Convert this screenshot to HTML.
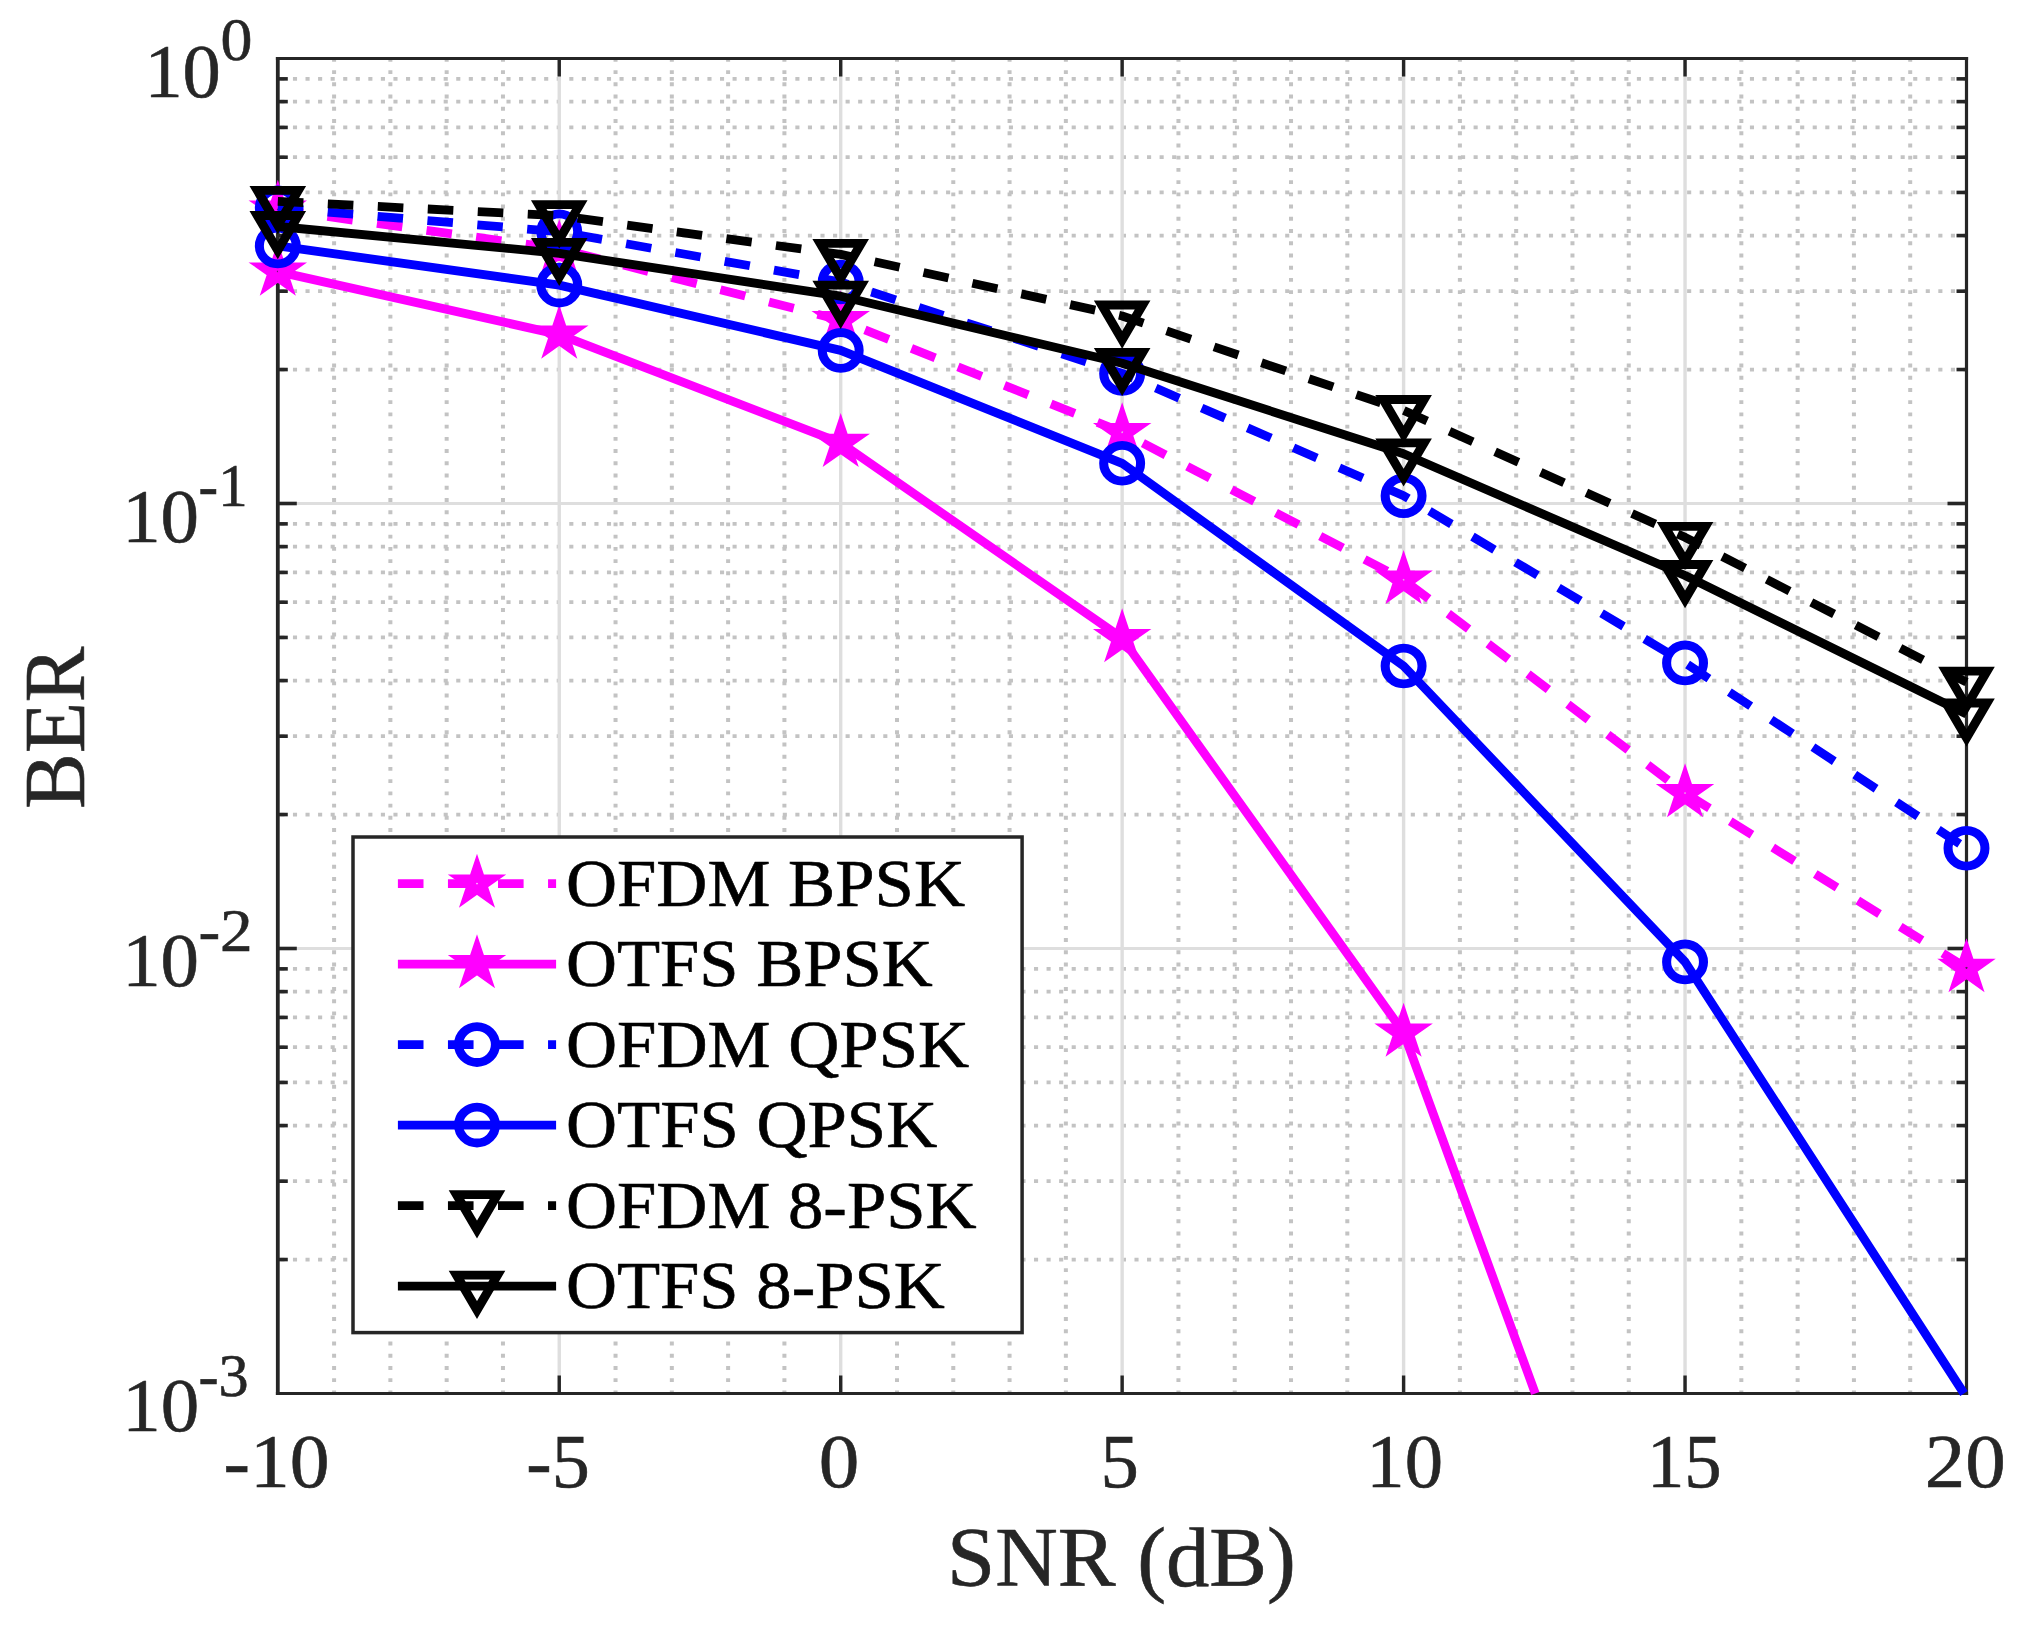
<!DOCTYPE html>
<html><head><meta charset="utf-8"><title>BER vs SNR</title>
<style>html,body{margin:0;padding:0;background:#fff}svg{display:block}text{font-family:"Liberation Serif","Times New Roman",serif;font-kerning:none;white-space:pre}</style></head><body>
<svg width="2036" height="1628" viewBox="0 0 2036 1628">
<rect width="2036" height="1628" fill="#fff"/>
<g fill="none">
<g stroke="#c3c3c3" stroke-width="4.0" stroke-dasharray="3.9 8.325">
<line x1="334.09" y1="57.92" x2="334.09" y2="1393.5"/>
<line x1="390.38" y1="57.92" x2="390.38" y2="1393.5"/>
<line x1="446.67" y1="57.92" x2="446.67" y2="1393.5"/>
<line x1="502.96" y1="57.92" x2="502.96" y2="1393.5"/>
<line x1="615.54" y1="57.92" x2="615.54" y2="1393.5"/>
<line x1="671.83" y1="57.92" x2="671.83" y2="1393.5"/>
<line x1="728.12" y1="57.92" x2="728.12" y2="1393.5"/>
<line x1="784.41" y1="57.92" x2="784.41" y2="1393.5"/>
<line x1="896.99" y1="57.92" x2="896.99" y2="1393.5"/>
<line x1="953.28" y1="57.92" x2="953.28" y2="1393.5"/>
<line x1="1009.57" y1="57.92" x2="1009.57" y2="1393.5"/>
<line x1="1065.86" y1="57.92" x2="1065.86" y2="1393.5"/>
<line x1="1178.44" y1="57.92" x2="1178.44" y2="1393.5"/>
<line x1="1234.73" y1="57.92" x2="1234.73" y2="1393.5"/>
<line x1="1291.02" y1="57.92" x2="1291.02" y2="1393.5"/>
<line x1="1347.31" y1="57.92" x2="1347.31" y2="1393.5"/>
<line x1="1459.89" y1="57.92" x2="1459.89" y2="1393.5"/>
<line x1="1516.18" y1="57.92" x2="1516.18" y2="1393.5"/>
<line x1="1572.47" y1="57.92" x2="1572.47" y2="1393.5"/>
<line x1="1628.76" y1="57.92" x2="1628.76" y2="1393.5"/>
<line x1="1741.34" y1="57.92" x2="1741.34" y2="1393.5"/>
<line x1="1797.63" y1="57.92" x2="1797.63" y2="1393.5"/>
<line x1="1853.92" y1="57.92" x2="1853.92" y2="1393.5"/>
<line x1="1910.21" y1="57.92" x2="1910.21" y2="1393.5"/>
</g>
<g stroke="#c3c3c3" stroke-width="3.8" stroke-dasharray="4.1 8.46">
<line x1="280.39" y1="369.54" x2="1966.5" y2="369.54"/>
<line x1="280.39" y1="291.18" x2="1966.5" y2="291.18"/>
<line x1="280.39" y1="235.58" x2="1966.5" y2="235.58"/>
<line x1="280.39" y1="192.46" x2="1966.5" y2="192.46"/>
<line x1="280.39" y1="157.22" x2="1966.5" y2="157.22"/>
<line x1="280.39" y1="127.43" x2="1966.5" y2="127.43"/>
<line x1="280.39" y1="101.62" x2="1966.5" y2="101.62"/>
<line x1="280.39" y1="78.86" x2="1966.5" y2="78.86"/>
<line x1="280.39" y1="814.54" x2="1966.5" y2="814.54"/>
<line x1="280.39" y1="736.18" x2="1966.5" y2="736.18"/>
<line x1="280.39" y1="680.58" x2="1966.5" y2="680.58"/>
<line x1="280.39" y1="637.46" x2="1966.5" y2="637.46"/>
<line x1="280.39" y1="602.22" x2="1966.5" y2="602.22"/>
<line x1="280.39" y1="572.43" x2="1966.5" y2="572.43"/>
<line x1="280.39" y1="546.62" x2="1966.5" y2="546.62"/>
<line x1="280.39" y1="523.86" x2="1966.5" y2="523.86"/>
<line x1="280.39" y1="1259.54" x2="1966.5" y2="1259.54"/>
<line x1="280.39" y1="1181.18" x2="1966.5" y2="1181.18"/>
<line x1="280.39" y1="1125.58" x2="1966.5" y2="1125.58"/>
<line x1="280.39" y1="1082.46" x2="1966.5" y2="1082.46"/>
<line x1="280.39" y1="1047.22" x2="1966.5" y2="1047.22"/>
<line x1="280.39" y1="1017.43" x2="1966.5" y2="1017.43"/>
<line x1="280.39" y1="991.62" x2="1966.5" y2="991.62"/>
<line x1="280.39" y1="968.86" x2="1966.5" y2="968.86"/>
</g>
<g stroke="#dedede">
<line x1="559.25" y1="58.5" x2="559.25" y2="1393.5" stroke-width="3.4"/>
<line x1="840.70" y1="58.5" x2="840.70" y2="1393.5" stroke-width="3.4"/>
<line x1="1122.15" y1="58.5" x2="1122.15" y2="1393.5" stroke-width="3.4"/>
<line x1="1403.60" y1="58.5" x2="1403.60" y2="1393.5" stroke-width="3.4"/>
<line x1="1685.05" y1="58.5" x2="1685.05" y2="1393.5" stroke-width="3.4"/>
<line x1="277.8" y1="503.50" x2="1966.5" y2="503.50" stroke-width="3.1"/>
<line x1="277.8" y1="948.50" x2="1966.5" y2="948.50" stroke-width="3.1"/>
</g>
</g>
<g stroke="#262626" fill="none">
<line x1="277.8" y1="503.50" x2="296.8" y2="503.50" stroke-width="3.6"/>
<line x1="1966.5" y1="503.50" x2="1947.5" y2="503.50" stroke-width="3.6"/>
<line x1="277.8" y1="369.54" x2="287.8" y2="369.54" stroke-width="3.6"/>
<line x1="1966.5" y1="369.54" x2="1956.5" y2="369.54" stroke-width="3.6"/>
<line x1="277.8" y1="291.18" x2="287.8" y2="291.18" stroke-width="3.6"/>
<line x1="1966.5" y1="291.18" x2="1956.5" y2="291.18" stroke-width="3.6"/>
<line x1="277.8" y1="235.58" x2="287.8" y2="235.58" stroke-width="3.6"/>
<line x1="1966.5" y1="235.58" x2="1956.5" y2="235.58" stroke-width="3.6"/>
<line x1="277.8" y1="192.46" x2="287.8" y2="192.46" stroke-width="3.6"/>
<line x1="1966.5" y1="192.46" x2="1956.5" y2="192.46" stroke-width="3.6"/>
<line x1="277.8" y1="157.22" x2="287.8" y2="157.22" stroke-width="3.6"/>
<line x1="1966.5" y1="157.22" x2="1956.5" y2="157.22" stroke-width="3.6"/>
<line x1="277.8" y1="127.43" x2="287.8" y2="127.43" stroke-width="3.6"/>
<line x1="1966.5" y1="127.43" x2="1956.5" y2="127.43" stroke-width="3.6"/>
<line x1="277.8" y1="101.62" x2="287.8" y2="101.62" stroke-width="3.6"/>
<line x1="1966.5" y1="101.62" x2="1956.5" y2="101.62" stroke-width="3.6"/>
<line x1="277.8" y1="78.86" x2="287.8" y2="78.86" stroke-width="3.6"/>
<line x1="1966.5" y1="78.86" x2="1956.5" y2="78.86" stroke-width="3.6"/>
<line x1="277.8" y1="948.50" x2="296.8" y2="948.50" stroke-width="3.6"/>
<line x1="1966.5" y1="948.50" x2="1947.5" y2="948.50" stroke-width="3.6"/>
<line x1="277.8" y1="814.54" x2="287.8" y2="814.54" stroke-width="3.6"/>
<line x1="1966.5" y1="814.54" x2="1956.5" y2="814.54" stroke-width="3.6"/>
<line x1="277.8" y1="736.18" x2="287.8" y2="736.18" stroke-width="3.6"/>
<line x1="1966.5" y1="736.18" x2="1956.5" y2="736.18" stroke-width="3.6"/>
<line x1="277.8" y1="680.58" x2="287.8" y2="680.58" stroke-width="3.6"/>
<line x1="1966.5" y1="680.58" x2="1956.5" y2="680.58" stroke-width="3.6"/>
<line x1="277.8" y1="637.46" x2="287.8" y2="637.46" stroke-width="3.6"/>
<line x1="1966.5" y1="637.46" x2="1956.5" y2="637.46" stroke-width="3.6"/>
<line x1="277.8" y1="602.22" x2="287.8" y2="602.22" stroke-width="3.6"/>
<line x1="1966.5" y1="602.22" x2="1956.5" y2="602.22" stroke-width="3.6"/>
<line x1="277.8" y1="572.43" x2="287.8" y2="572.43" stroke-width="3.6"/>
<line x1="1966.5" y1="572.43" x2="1956.5" y2="572.43" stroke-width="3.6"/>
<line x1="277.8" y1="546.62" x2="287.8" y2="546.62" stroke-width="3.6"/>
<line x1="1966.5" y1="546.62" x2="1956.5" y2="546.62" stroke-width="3.6"/>
<line x1="277.8" y1="523.86" x2="287.8" y2="523.86" stroke-width="3.6"/>
<line x1="1966.5" y1="523.86" x2="1956.5" y2="523.86" stroke-width="3.6"/>
<line x1="277.8" y1="1259.54" x2="287.8" y2="1259.54" stroke-width="3.6"/>
<line x1="1966.5" y1="1259.54" x2="1956.5" y2="1259.54" stroke-width="3.6"/>
<line x1="277.8" y1="1181.18" x2="287.8" y2="1181.18" stroke-width="3.6"/>
<line x1="1966.5" y1="1181.18" x2="1956.5" y2="1181.18" stroke-width="3.6"/>
<line x1="277.8" y1="1125.58" x2="287.8" y2="1125.58" stroke-width="3.6"/>
<line x1="1966.5" y1="1125.58" x2="1956.5" y2="1125.58" stroke-width="3.6"/>
<line x1="277.8" y1="1082.46" x2="287.8" y2="1082.46" stroke-width="3.6"/>
<line x1="1966.5" y1="1082.46" x2="1956.5" y2="1082.46" stroke-width="3.6"/>
<line x1="277.8" y1="1047.22" x2="287.8" y2="1047.22" stroke-width="3.6"/>
<line x1="1966.5" y1="1047.22" x2="1956.5" y2="1047.22" stroke-width="3.6"/>
<line x1="277.8" y1="1017.43" x2="287.8" y2="1017.43" stroke-width="3.6"/>
<line x1="1966.5" y1="1017.43" x2="1956.5" y2="1017.43" stroke-width="3.6"/>
<line x1="277.8" y1="991.62" x2="287.8" y2="991.62" stroke-width="3.6"/>
<line x1="1966.5" y1="991.62" x2="1956.5" y2="991.62" stroke-width="3.6"/>
<line x1="277.8" y1="968.86" x2="287.8" y2="968.86" stroke-width="3.6"/>
<line x1="1966.5" y1="968.86" x2="1956.5" y2="968.86" stroke-width="3.6"/>
<line x1="559.25" y1="1393.5" x2="559.25" y2="1375.5" stroke-width="3.4"/>
<line x1="559.25" y1="58.5" x2="559.25" y2="76.5" stroke-width="3.4"/>
<line x1="840.70" y1="1393.5" x2="840.70" y2="1375.5" stroke-width="3.4"/>
<line x1="840.70" y1="58.5" x2="840.70" y2="76.5" stroke-width="3.4"/>
<line x1="1122.15" y1="1393.5" x2="1122.15" y2="1375.5" stroke-width="3.4"/>
<line x1="1122.15" y1="58.5" x2="1122.15" y2="76.5" stroke-width="3.4"/>
<line x1="1403.60" y1="1393.5" x2="1403.60" y2="1375.5" stroke-width="3.4"/>
<line x1="1403.60" y1="58.5" x2="1403.60" y2="76.5" stroke-width="3.4"/>
<line x1="1685.05" y1="1393.5" x2="1685.05" y2="1375.5" stroke-width="3.4"/>
<line x1="1685.05" y1="58.5" x2="1685.05" y2="76.5" stroke-width="3.4"/>
<line x1="275.90000000000003" y1="58.5" x2="1968.1" y2="58.5" stroke-width="3.1"/>
<line x1="275.90000000000003" y1="1393.5" x2="1968.1" y2="1393.5" stroke-width="3.1"/>
<line x1="277.8" y1="57.0" x2="277.8" y2="1395.0" stroke-width="3.8"/>
<line x1="1966.5" y1="57.0" x2="1966.5" y2="1395.0" stroke-width="3.2"/>
</g>
<polyline points="277.80,209.60 559.25,248.80 840.70,320.20 1122.15,432.20 1403.60,579.80 1685.05,793.10 1966.50,968.00" fill="none" stroke="#ff00ff" stroke-width="8.8" stroke-linejoin="round" stroke-dasharray="25.6 24.45"/>
<g transform="translate(277.80,209.60) scale(1.03,1)" stroke="#ff00ff" stroke-width="8.8" fill="none" stroke-linejoin="miter" stroke-miterlimit="10"><polygon points="0.00,-15.60 3.50,-4.82 14.84,-4.82 5.67,1.84 9.17,12.62 0.00,5.96 -9.17,12.62 -5.67,1.84 -14.84,-4.82 -3.50,-4.82"/></g>
<g transform="translate(559.25,248.80) scale(1.03,1)" stroke="#ff00ff" stroke-width="8.8" fill="none" stroke-linejoin="miter" stroke-miterlimit="10"><polygon points="0.00,-15.60 3.50,-4.82 14.84,-4.82 5.67,1.84 9.17,12.62 0.00,5.96 -9.17,12.62 -5.67,1.84 -14.84,-4.82 -3.50,-4.82"/></g>
<g transform="translate(840.70,320.20) scale(1.03,1)" stroke="#ff00ff" stroke-width="8.8" fill="none" stroke-linejoin="miter" stroke-miterlimit="10"><polygon points="0.00,-15.60 3.50,-4.82 14.84,-4.82 5.67,1.84 9.17,12.62 0.00,5.96 -9.17,12.62 -5.67,1.84 -14.84,-4.82 -3.50,-4.82"/></g>
<g transform="translate(1122.15,432.20) scale(1.03,1)" stroke="#ff00ff" stroke-width="8.8" fill="none" stroke-linejoin="miter" stroke-miterlimit="10"><polygon points="0.00,-15.60 3.50,-4.82 14.84,-4.82 5.67,1.84 9.17,12.62 0.00,5.96 -9.17,12.62 -5.67,1.84 -14.84,-4.82 -3.50,-4.82"/></g>
<g transform="translate(1403.60,579.80) scale(1.03,1)" stroke="#ff00ff" stroke-width="8.8" fill="none" stroke-linejoin="miter" stroke-miterlimit="10"><polygon points="0.00,-15.60 3.50,-4.82 14.84,-4.82 5.67,1.84 9.17,12.62 0.00,5.96 -9.17,12.62 -5.67,1.84 -14.84,-4.82 -3.50,-4.82"/></g>
<g transform="translate(1685.05,793.10) scale(1.03,1)" stroke="#ff00ff" stroke-width="8.8" fill="none" stroke-linejoin="miter" stroke-miterlimit="10"><polygon points="0.00,-15.60 3.50,-4.82 14.84,-4.82 5.67,1.84 9.17,12.62 0.00,5.96 -9.17,12.62 -5.67,1.84 -14.84,-4.82 -3.50,-4.82"/></g>
<g transform="translate(1966.50,968.00) scale(1.03,1)" stroke="#ff00ff" stroke-width="8.8" fill="none" stroke-linejoin="miter" stroke-miterlimit="10"><polygon points="0.00,-15.60 3.50,-4.82 14.84,-4.82 5.67,1.84 9.17,12.62 0.00,5.96 -9.17,12.62 -5.67,1.84 -14.84,-4.82 -3.50,-4.82"/></g>
<polyline points="277.80,271.60 559.25,334.60 840.70,442.90 1122.15,638.20 1403.60,1032.60 1535.30,1393.50" fill="none" stroke="#ff00ff" stroke-width="8.8" stroke-linejoin="round"/>
<g transform="translate(277.80,271.60) scale(1.03,1)" stroke="#ff00ff" stroke-width="8.8" fill="none" stroke-linejoin="miter" stroke-miterlimit="10"><polygon points="0.00,-15.60 3.50,-4.82 14.84,-4.82 5.67,1.84 9.17,12.62 0.00,5.96 -9.17,12.62 -5.67,1.84 -14.84,-4.82 -3.50,-4.82"/></g>
<g transform="translate(559.25,334.60) scale(1.03,1)" stroke="#ff00ff" stroke-width="8.8" fill="none" stroke-linejoin="miter" stroke-miterlimit="10"><polygon points="0.00,-15.60 3.50,-4.82 14.84,-4.82 5.67,1.84 9.17,12.62 0.00,5.96 -9.17,12.62 -5.67,1.84 -14.84,-4.82 -3.50,-4.82"/></g>
<g transform="translate(840.70,442.90) scale(1.03,1)" stroke="#ff00ff" stroke-width="8.8" fill="none" stroke-linejoin="miter" stroke-miterlimit="10"><polygon points="0.00,-15.60 3.50,-4.82 14.84,-4.82 5.67,1.84 9.17,12.62 0.00,5.96 -9.17,12.62 -5.67,1.84 -14.84,-4.82 -3.50,-4.82"/></g>
<g transform="translate(1122.15,638.20) scale(1.03,1)" stroke="#ff00ff" stroke-width="8.8" fill="none" stroke-linejoin="miter" stroke-miterlimit="10"><polygon points="0.00,-15.60 3.50,-4.82 14.84,-4.82 5.67,1.84 9.17,12.62 0.00,5.96 -9.17,12.62 -5.67,1.84 -14.84,-4.82 -3.50,-4.82"/></g>
<g transform="translate(1403.60,1032.60) scale(1.03,1)" stroke="#ff00ff" stroke-width="8.8" fill="none" stroke-linejoin="miter" stroke-miterlimit="10"><polygon points="0.00,-15.60 3.50,-4.82 14.84,-4.82 5.67,1.84 9.17,12.62 0.00,5.96 -9.17,12.62 -5.67,1.84 -14.84,-4.82 -3.50,-4.82"/></g>
<polyline points="277.80,207.80 559.25,231.80 840.70,282.00 1122.15,373.40 1403.60,495.70 1685.05,662.90 1966.50,848.30" fill="none" stroke="#0000ff" stroke-width="8.8" stroke-linejoin="round" stroke-dasharray="25.6 24.45"/>
<g transform="translate(277.80,207.80) scale(1.03,1)" stroke="#0000ff" stroke-width="8.8" fill="none" stroke-linejoin="miter" stroke-miterlimit="10"><circle r="17.9"/></g>
<g transform="translate(559.25,231.80) scale(1.03,1)" stroke="#0000ff" stroke-width="8.8" fill="none" stroke-linejoin="miter" stroke-miterlimit="10"><circle r="17.9"/></g>
<g transform="translate(840.70,282.00) scale(1.03,1)" stroke="#0000ff" stroke-width="8.8" fill="none" stroke-linejoin="miter" stroke-miterlimit="10"><circle r="17.9"/></g>
<g transform="translate(1122.15,373.40) scale(1.03,1)" stroke="#0000ff" stroke-width="8.8" fill="none" stroke-linejoin="miter" stroke-miterlimit="10"><circle r="17.9"/></g>
<g transform="translate(1403.60,495.70) scale(1.03,1)" stroke="#0000ff" stroke-width="8.8" fill="none" stroke-linejoin="miter" stroke-miterlimit="10"><circle r="17.9"/></g>
<g transform="translate(1685.05,662.90) scale(1.03,1)" stroke="#0000ff" stroke-width="8.8" fill="none" stroke-linejoin="miter" stroke-miterlimit="10"><circle r="17.9"/></g>
<g transform="translate(1966.50,848.30) scale(1.03,1)" stroke="#0000ff" stroke-width="8.8" fill="none" stroke-linejoin="miter" stroke-miterlimit="10"><circle r="17.9"/></g>
<polyline points="277.80,245.90 559.25,285.10 840.70,350.40 1122.15,463.30 1403.60,666.00 1685.05,961.90 1964.00,1393.50" fill="none" stroke="#0000ff" stroke-width="8.8" stroke-linejoin="round"/>
<g transform="translate(277.80,245.90) scale(1.03,1)" stroke="#0000ff" stroke-width="8.8" fill="none" stroke-linejoin="miter" stroke-miterlimit="10"><circle r="17.9"/></g>
<g transform="translate(559.25,285.10) scale(1.03,1)" stroke="#0000ff" stroke-width="8.8" fill="none" stroke-linejoin="miter" stroke-miterlimit="10"><circle r="17.9"/></g>
<g transform="translate(840.70,350.40) scale(1.03,1)" stroke="#0000ff" stroke-width="8.8" fill="none" stroke-linejoin="miter" stroke-miterlimit="10"><circle r="17.9"/></g>
<g transform="translate(1122.15,463.30) scale(1.03,1)" stroke="#0000ff" stroke-width="8.8" fill="none" stroke-linejoin="miter" stroke-miterlimit="10"><circle r="17.9"/></g>
<g transform="translate(1403.60,666.00) scale(1.03,1)" stroke="#0000ff" stroke-width="8.8" fill="none" stroke-linejoin="miter" stroke-miterlimit="10"><circle r="17.9"/></g>
<g transform="translate(1685.05,961.90) scale(1.03,1)" stroke="#0000ff" stroke-width="8.8" fill="none" stroke-linejoin="miter" stroke-miterlimit="10"><circle r="17.9"/></g>
<polyline points="277.80,201.40 559.25,215.70 840.70,254.40 1122.15,316.00 1403.60,410.50 1685.05,537.30 1966.50,682.20" fill="none" stroke="#000000" stroke-width="8.8" stroke-linejoin="round" stroke-dasharray="25.6 24.45"/>
<g transform="translate(277.80,201.40) scale(1.03,1)" stroke="#000000" stroke-width="8.8" fill="none" stroke-linejoin="miter" stroke-miterlimit="10"><polygon points="-19.9,-11 19.9,-11 0,23.9"/></g>
<g transform="translate(559.25,215.70) scale(1.03,1)" stroke="#000000" stroke-width="8.8" fill="none" stroke-linejoin="miter" stroke-miterlimit="10"><polygon points="-19.9,-11 19.9,-11 0,23.9"/></g>
<g transform="translate(840.70,254.40) scale(1.03,1)" stroke="#000000" stroke-width="8.8" fill="none" stroke-linejoin="miter" stroke-miterlimit="10"><polygon points="-19.9,-11 19.9,-11 0,23.9"/></g>
<g transform="translate(1122.15,316.00) scale(1.03,1)" stroke="#000000" stroke-width="8.8" fill="none" stroke-linejoin="miter" stroke-miterlimit="10"><polygon points="-19.9,-11 19.9,-11 0,23.9"/></g>
<g transform="translate(1403.60,410.50) scale(1.03,1)" stroke="#000000" stroke-width="8.8" fill="none" stroke-linejoin="miter" stroke-miterlimit="10"><polygon points="-19.9,-11 19.9,-11 0,23.9"/></g>
<g transform="translate(1685.05,537.30) scale(1.03,1)" stroke="#000000" stroke-width="8.8" fill="none" stroke-linejoin="miter" stroke-miterlimit="10"><polygon points="-19.9,-11 19.9,-11 0,23.9"/></g>
<g transform="translate(1966.50,682.20) scale(1.03,1)" stroke="#000000" stroke-width="8.8" fill="none" stroke-linejoin="miter" stroke-miterlimit="10"><polygon points="-19.9,-11 19.9,-11 0,23.9"/></g>
<polyline points="277.80,226.50 559.25,253.30 840.70,296.20 1122.15,363.30 1403.60,453.80 1685.05,575.50 1966.50,714.00" fill="none" stroke="#000000" stroke-width="8.8" stroke-linejoin="round"/>
<g transform="translate(277.80,226.50) scale(1.03,1)" stroke="#000000" stroke-width="8.8" fill="none" stroke-linejoin="miter" stroke-miterlimit="10"><polygon points="-19.9,-11 19.9,-11 0,23.9"/></g>
<g transform="translate(559.25,253.30) scale(1.03,1)" stroke="#000000" stroke-width="8.8" fill="none" stroke-linejoin="miter" stroke-miterlimit="10"><polygon points="-19.9,-11 19.9,-11 0,23.9"/></g>
<g transform="translate(840.70,296.20) scale(1.03,1)" stroke="#000000" stroke-width="8.8" fill="none" stroke-linejoin="miter" stroke-miterlimit="10"><polygon points="-19.9,-11 19.9,-11 0,23.9"/></g>
<g transform="translate(1122.15,363.30) scale(1.03,1)" stroke="#000000" stroke-width="8.8" fill="none" stroke-linejoin="miter" stroke-miterlimit="10"><polygon points="-19.9,-11 19.9,-11 0,23.9"/></g>
<g transform="translate(1403.60,453.80) scale(1.03,1)" stroke="#000000" stroke-width="8.8" fill="none" stroke-linejoin="miter" stroke-miterlimit="10"><polygon points="-19.9,-11 19.9,-11 0,23.9"/></g>
<g transform="translate(1685.05,575.50) scale(1.03,1)" stroke="#000000" stroke-width="8.8" fill="none" stroke-linejoin="miter" stroke-miterlimit="10"><polygon points="-19.9,-11 19.9,-11 0,23.9"/></g>
<g transform="translate(1966.50,714.00) scale(1.03,1)" stroke="#000000" stroke-width="8.8" fill="none" stroke-linejoin="miter" stroke-miterlimit="10"><polygon points="-19.9,-11 19.9,-11 0,23.9"/></g>
<text transform="translate(223.55,1487.40) scale(1.0312,1)" font-size="77.1" fill="#262626" stroke="#262626" stroke-width="0.6">-10</text>
<text transform="translate(526.27,1487.40) scale(0.9888,1)" font-size="77.1" fill="#262626" stroke="#262626" stroke-width="0.6">-5</text>
<text transform="translate(818.81,1487.40) scale(1.0527,1)" font-size="77.1" fill="#262626" stroke="#262626" stroke-width="0.6">0</text>
<text transform="translate(1100.44,1487.40) scale(0.9949,1)" font-size="77.1" fill="#262626" stroke="#262626" stroke-width="0.6">5</text>
<text transform="translate(1366.36,1487.40) scale(0.9943,1)" font-size="77.1" fill="#262626" stroke="#262626" stroke-width="0.6">10</text>
<text transform="translate(1646.93,1487.40) scale(0.9701,1)" font-size="77.1" fill="#262626" stroke="#262626" stroke-width="0.6">15</text>
<text transform="translate(1924.74,1487.40) scale(1.0498,1)" font-size="77.1" fill="#262626" stroke="#262626" stroke-width="0.6">20</text>
<text transform="translate(144.38,96.95) scale(0.9913,1)" font-size="77.1" fill="#262626" stroke="#262626" stroke-width="0.6">10</text>
<text transform="translate(220.42,60.25) scale(1.0344,1)" font-size="61.7" fill="#262626" stroke="#262626" stroke-width="0.6">0</text>
<text transform="translate(122.14,541.60) scale(0.9972,1)" font-size="77.1" fill="#262626" stroke="#262626" stroke-width="0.6">10</text>
<text transform="translate(198.62,505.80) scale(0.9526,1)" font-size="61.7" fill="#262626" stroke="#262626" stroke-width="0.6">-1</text>
<text transform="translate(122.14,986.10) scale(0.9972,1)" font-size="77.1" fill="#262626" stroke="#262626" stroke-width="0.6">10</text>
<text transform="translate(198.38,950.70) scale(1.0568,1)" font-size="61.7" fill="#262626" stroke="#262626" stroke-width="0.6">-2</text>
<text transform="translate(122.24,1430.60) scale(0.9972,1)" font-size="77.1" fill="#262626" stroke="#262626" stroke-width="0.6">10</text>
<text transform="translate(198.56,1395.70) scale(0.9765,1)" font-size="61.7" fill="#262626" stroke="#262626" stroke-width="0.6">-3</text>
<text transform="translate(947.00,1585.90) scale(1.0265,1)" font-size="84.4" fill="#262626" stroke="#262626" stroke-width="0.6">SNR (dB)</text>
<text transform="translate(83.9,727.65) scale(1.045,1) rotate(-90)" font-size="83.4" fill="#262626" stroke="#262626" stroke-width="0.6" text-anchor="middle">BER</text>
<rect x="353.0" y="837.0" width="669.1" height="495.5999999999999" fill="#fff" stroke="#262626" stroke-width="3.5"/>
<line x1="397.9" y1="883.60" x2="556.1" y2="883.60" stroke="#ff00ff" stroke-width="8.8" stroke-dasharray="25.6 24.45"/>
<g transform="translate(477.00,883.60) scale(1.03,1)" stroke="#ff00ff" stroke-width="8.8" fill="none" stroke-linejoin="miter" stroke-miterlimit="10"><polygon points="0.00,-15.60 3.50,-4.82 14.84,-4.82 5.67,1.84 9.17,12.62 0.00,5.96 -9.17,12.62 -5.67,1.84 -14.84,-4.82 -3.50,-4.82"/></g>
<text transform="translate(565.90,905.90) scale(1.0516,1)" font-size="67.3" fill="#000" stroke="#000" stroke-width="0.6">OFDM BPSK</text>
<line x1="397.9" y1="964.10" x2="556.1" y2="964.10" stroke="#ff00ff" stroke-width="8.8"/>
<g transform="translate(477.00,964.10) scale(1.03,1)" stroke="#ff00ff" stroke-width="8.8" fill="none" stroke-linejoin="miter" stroke-miterlimit="10"><polygon points="0.00,-15.60 3.50,-4.82 14.84,-4.82 5.67,1.84 9.17,12.62 0.00,5.96 -9.17,12.62 -5.67,1.84 -14.84,-4.82 -3.50,-4.82"/></g>
<text transform="translate(565.90,986.40) scale(1.0491,1)" font-size="67.3" fill="#000" stroke="#000" stroke-width="0.6">OTFS BPSK</text>
<line x1="397.9" y1="1044.60" x2="556.1" y2="1044.60" stroke="#0000ff" stroke-width="8.8" stroke-dasharray="25.6 24.45"/>
<g transform="translate(477.00,1044.60) scale(1.03,1)" stroke="#0000ff" stroke-width="8.8" fill="none" stroke-linejoin="miter" stroke-miterlimit="10"><circle r="17.9"/></g>
<text transform="translate(565.90,1066.90) scale(1.0521,1)" font-size="67.3" fill="#000" stroke="#000" stroke-width="0.6">OFDM QPSK</text>
<line x1="397.9" y1="1125.10" x2="556.1" y2="1125.10" stroke="#0000ff" stroke-width="8.8"/>
<g transform="translate(477.00,1125.10) scale(1.03,1)" stroke="#0000ff" stroke-width="8.8" fill="none" stroke-linejoin="miter" stroke-miterlimit="10"><circle r="17.9"/></g>
<text transform="translate(565.90,1147.40) scale(1.0506,1)" font-size="67.3" fill="#000" stroke="#000" stroke-width="0.6">OTFS QPSK</text>
<line x1="397.9" y1="1205.60" x2="556.1" y2="1205.60" stroke="#000000" stroke-width="8.8" stroke-dasharray="25.6 24.45"/>
<g transform="translate(477.00,1205.60) scale(1.03,1)" stroke="#000000" stroke-width="8.8" fill="none" stroke-linejoin="miter" stroke-miterlimit="10"><polygon points="-19.9,-11 19.9,-11 0,23.9"/></g>
<text transform="translate(565.90,1227.90) scale(1.0512,1)" font-size="67.3" fill="#000" stroke="#000" stroke-width="0.6">OFDM 8-PSK</text>
<line x1="397.9" y1="1286.10" x2="556.1" y2="1286.10" stroke="#000000" stroke-width="8.8"/>
<g transform="translate(477.00,1286.10) scale(1.03,1)" stroke="#000000" stroke-width="8.8" fill="none" stroke-linejoin="miter" stroke-miterlimit="10"><polygon points="-19.9,-11 19.9,-11 0,23.9"/></g>
<text transform="translate(565.90,1308.40) scale(1.0499,1)" font-size="67.3" fill="#000" stroke="#000" stroke-width="0.6">OTFS 8-PSK</text>
</svg></body></html>
